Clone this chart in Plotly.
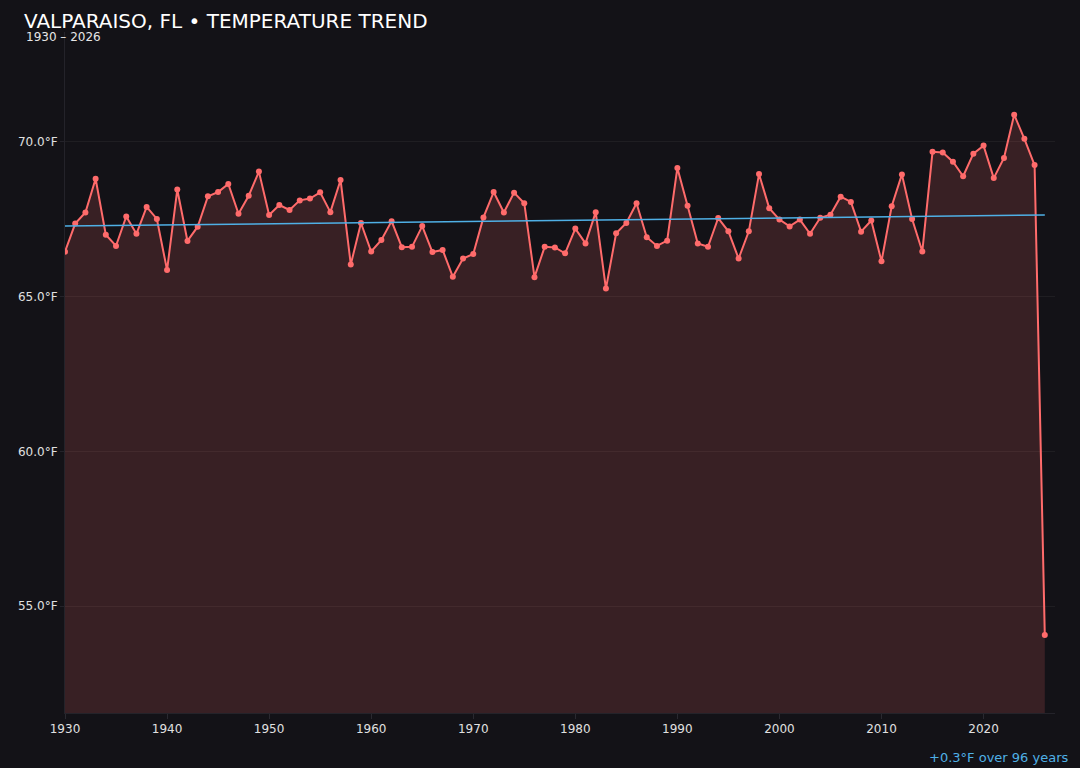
import plotly.graph_objects as go

# yearly mean temperature, Valparaiso FL
years = list(range(1930, 2027))
temps = [
    66.45, 67.36, 67.72, 68.81, 67.00, 66.64, 67.59, 67.03, 67.90, 67.51,
    65.86, 68.46, 66.80, 67.26, 68.24, 68.38, 68.64, 67.68, 68.26, 69.04,
    67.64, 67.96, 67.80, 68.11, 68.17, 68.37, 67.73, 68.77, 66.04, 67.38,
    66.46, 66.83, 67.44, 66.60, 66.61, 67.28, 66.44, 66.51, 65.64, 66.23,
    66.38, 67.56, 68.38, 67.72, 68.36, 68.02, 65.63, 66.61, 66.59, 66.40,
    67.20, 66.72, 67.73, 65.26, 67.05, 67.38, 68.02, 66.92, 66.64, 66.81,
    69.16, 67.94, 66.72, 66.61, 67.54, 67.11, 66.23, 67.11, 68.96, 67.86,
    67.49, 67.27, 67.49, 67.03, 67.55, 67.65, 68.23, 68.06, 67.10, 67.46,
    66.14, 67.92, 68.95, 67.51, 66.46, 69.68, 69.66, 69.36, 68.89, 69.62,
    69.88, 68.83, 69.48, 70.88, 70.10, 69.25, 54.07,
]
trend_years = [1930, 2026]
trend_vals = [67.28, 67.64]
trend_text = "+0.3°F over 96 years"
ytick_vals = [55, 60, 65, 70]
ytick_text = ["55.0°F", "60.0°F", "65.0°F", "70.0°F"]

bg = "#131217"
red = "#ff6b6b"
blue = "#4fb0e6"

fig = go.Figure()
fig.add_trace(go.Scatter(
    x=years, y=temps, mode="lines+markers",
    line=dict(color=red, width=2),
    marker=dict(color=red, size=6),
    fill="tozeroy", fillcolor="rgba(255,107,107,0.16)",
    showlegend=False))
fig.add_trace(go.Scatter(
    x=trend_years, y=trend_vals, mode="lines",
    line=dict(color=blue, width=1.5),
    showlegend=False))

fig.update_layout(
    width=1080, height=768,
    paper_bgcolor=bg, plot_bgcolor=bg,
    margin=dict(l=65, r=25, t=32, b=55),
    font=dict(family="DejaVu Sans", color="#e6e6e6", size=12),
    title=dict(text="VALPARAISO, FL • TEMPERATURE TREND",
               xref="container", yref="container",
               x=24 / 1080, xanchor="left",
               y=1 - 21 / 768, yanchor="middle",
               font=dict(size=20, color="#ffffff")),
    annotations=[
        dict(text="1930 – 2026", xref="paper", yref="paper",
             x=(24 - 65) / 990, y=(711 - 35) / 681,
             xanchor="left", yanchor="middle", showarrow=False,
             font=dict(size=12, color="#e6e6e6")),
        dict(text=trend_text, xref="paper", yref="paper",
             x=(1070 - 65) / 990, y=(711 - 755) / 681,
             xanchor="right", yanchor="middle", showarrow=False,
             font=dict(size=13, color=blue)),
    ],
)
fig.update_xaxes(
    range=[1930, 2027], tick0=1930, dtick=10,
    showgrid=False, zeroline=False,
    showline=True, linecolor="#24232a", linewidth=1,
    ticks="outside", ticklen=5, tickcolor="#2a2930",
    tickfont=dict(size=12, color="#e0e0e0"))
fig.update_yaxes(
    range=[51.55, 73.55], tickmode="array",
    tickvals=ytick_vals, ticktext=ytick_text,
    showgrid=True, gridcolor="rgba(255,255,255,0.05)",
    zeroline=False,
    showline=True, linecolor="#24232a", linewidth=1,
    ticks="outside", ticklen=4, tickcolor="#24232a",
    tickfont=dict(size=12, color="#e0e0e0"))

# page body has a default margin; drop it so the dark figure fills the window
fig.write_html("out.html", config={"displayModeBar": False},
               post_script="document.body.style.margin='0';")
